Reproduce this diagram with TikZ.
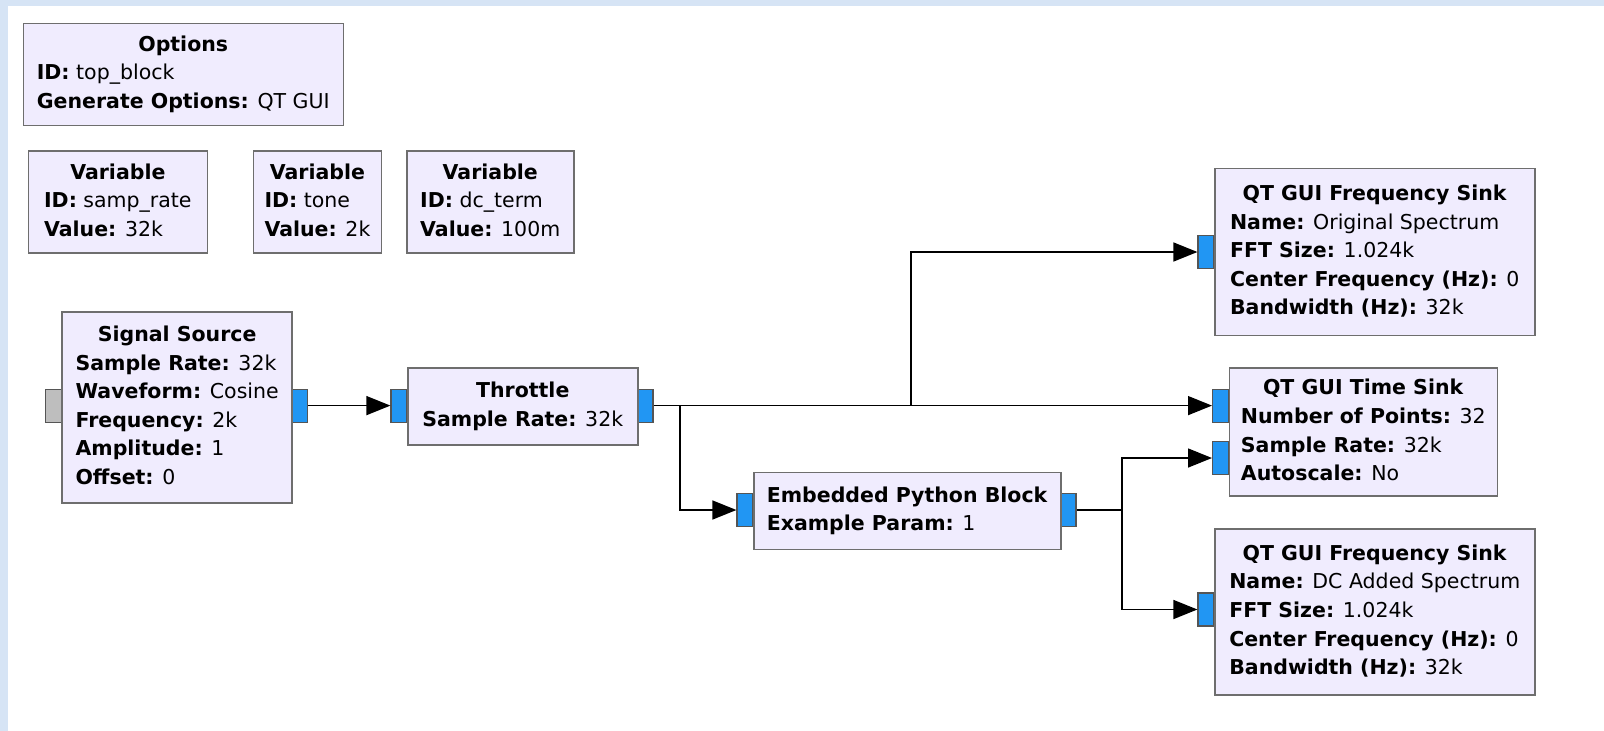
\documentclass[tikz,border=0pt]{standalone}
\usepackage{fontspec}
\setmainfont{DejaVu Sans}
\usetikzlibrary{arrows.meta,positioning}

\definecolor{blockfill}{RGB}{240,236,254}
\definecolor{blockedge}{RGB}{110,110,110}
\definecolor{portblue}{RGB}{33,150,243}
\definecolor{portgrey}{RGB}{190,190,190}
\definecolor{portedge}{RGB}{85,85,85}
\definecolor{canvasblue}{RGB}{214,228,245}

\newcommand{\blkhead}[1]{\multicolumn{1}{@{}c@{}}{\textbf{#1}}}
\newcommand{\kv}[2]{\textbf{#1:} #2}

\tikzset{
  block/.style={draw=blockedge, fill=blockfill, line width=1.5pt, anchor=north west,
                inner sep=0pt, font=\fontsize{20.5}{28.6}\selectfont},
  port/.style={draw=portedge, fill=portblue, line width=1.2pt, minimum width=16pt,
               minimum height=33pt, inner sep=0pt},
  flow/.style={line width=1.5pt, -{Triangle[length=24pt,width=19pt]}},
  wire/.style={line width=1.5pt}
}

\begin{document}
\begin{tikzpicture}[x=1pt,y=-1pt]
  \useasboundingbox (0,0) rectangle (1604,731);
  \fill[white] (0,0) rectangle (1604,731);
  \fill[canvasblue] (0,0) rectangle (8,731);
  \fill[canvasblue] (0,0) rectangle (1604,6);

  % ports first, blocks on top
  \node[port, fill=portgrey] (src-in) at (53.2,405.6) {};
  \node[port] (src-out) at (299.3,405.6) {};
  \node[port] (thr-in) at (399,405.6) {};
  \node[port] (thr-out) at (645,405.6) {};
  \node[port] (epy-in) at (745,510) {};
  \node[port] (epy-out) at (1068,510) {};
  \node[port] (fs1-in) at (1206,252) {};
  \node[port] (ts-in0) at (1220.6,405.6) {};
  \node[port] (ts-in1) at (1220.6,458) {};
  \node[port] (fs2-in) at (1206,609.5) {};

  % variables and options
  \node[block, minimum width=320, minimum height=102] (options) at (22.5,22.5)
    {\begin{tabular}{@{}l@{}}\blkhead{Options}\\ \kv{ID}{top\_block}\\ \kv{Generate Options}{QT GUI}\end{tabular}};
  \node[block, minimum width=179, minimum height=102] (var-rate) at (27.6,150.4)
    {\begin{tabular}{@{}l@{}}\blkhead{Variable}\\ \kv{ID}{samp\_rate}\\ \kv{Value}{32k}\end{tabular}};
  \node[block, minimum width=128, minimum height=102] (var-tone) at (252.7,150.4)
    {\begin{tabular}{@{}l@{}}\blkhead{Variable}\\ \kv{ID}{tone}\\ \kv{Value}{2k}\end{tabular}};
  \node[block, minimum width=167, minimum height=102] (var-dc) at (406,150.4)
    {\begin{tabular}{@{}l@{}}\blkhead{Variable}\\ \kv{ID}{dc\_term}\\ \kv{Value}{100m}\end{tabular}};

  % flowgraph blocks
  \node[block, minimum width=230, minimum height=191] (src) at (61.4,311)
    {\begin{tabular}{@{}l@{}}\blkhead{Signal Source}\\ \kv{Sample Rate}{32k}\\ \kv{Waveform}{Cosine}\\
     \kv{Frequency}{2k}\\ \kv{Amplitude}{1}\\ \kv{Offset}{0}\end{tabular}};
  \node[block, minimum width=230, minimum height=77] (thr) at (407,367.3)
    {\begin{tabular}{@{}l@{}}\blkhead{Throttle}\\ \kv{Sample Rate}{32k}\end{tabular}};
  \node[block, minimum width=307, minimum height=77] (epy) at (753,471.6)
    {\begin{tabular}{@{}l@{}}\blkhead{Embedded Python Block}\\ \kv{Example Param}{1}\end{tabular}};
  \node[block, minimum width=320, minimum height=167] (fs1) at (1214,167.8)
    {\begin{tabular}{@{}l@{}}\blkhead{QT GUI Frequency Sink}\\ \kv{Name}{Original Spectrum}\\ \kv{FFT Size}{1.024k}\\
     \kv{Center Frequency (Hz)}{0}\\ \kv{Bandwidth (Hz)}{32k}\end{tabular}};
  \node[block, minimum width=268, minimum height=128] (ts) at (1228.6,367.3)
    {\begin{tabular}{@{}l@{}}\blkhead{QT GUI Time Sink}\\ \kv{Number of Points}{32}\\ \kv{Sample Rate}{32k}\\
     \kv{Autoscale}{No}\end{tabular}};
  \node[block, minimum width=320, minimum height=166] (fs2) at (1214,528)
    {\begin{tabular}{@{}l@{}}\blkhead{QT GUI Frequency Sink}\\ \kv{Name}{DC Added Spectrum}\\ \kv{FFT Size}{1.024k}\\
     \kv{Center Frequency (Hz)}{0}\\ \kv{Bandwidth (Hz)}{32k}\end{tabular}};

  % connections
  \coordinate (split-a) at (680,405.6);
  \coordinate (split-b) at (911,405.6);
  \coordinate (split-c) at (1122,510);
  \draw[flow] (src-out.east) -- (thr-in.west);
  \draw[flow] (thr-out.east) -- (ts-in0.west);
  \draw[flow] (split-b) |- (fs1-in.west);
  \draw[flow] (split-a) |- (epy-in.west);
  \draw[wire] (epy-out.east) -- (split-c);
  \draw[flow] (split-c) |- (ts-in1.west);
  \draw[flow] (split-c) |- (fs2-in.west);
\end{tikzpicture}
\end{document}
